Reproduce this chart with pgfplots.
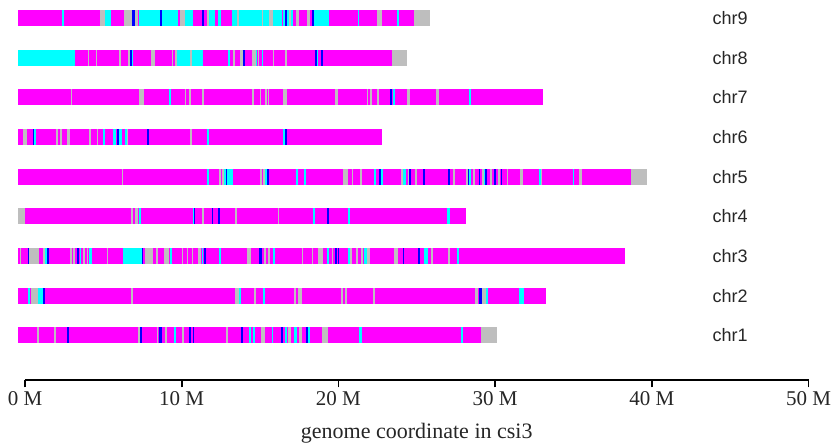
\documentclass[border=0pt]{standalone}
\usepackage{fontspec}
\setmainfont{Liberation Serif}
\newfontfamily\chrfont{Liberation Sans}
\usepackage{pgfplots}
\usepackage{pgfplotstable}
\pgfplotsset{compat=1.18}
\definecolor{segmag}{RGB}{255,0,255}
\definecolor{segcyan}{RGB}{0,255,255}
\definecolor{seggray}{RGB}{190,190,190}
\definecolor{segblue}{RGB}{0,0,255}

% chromosome body (magenta base): chr index, start (M), end (M)
\pgfplotstableread{
y s e
9 -0.43 24.83
8 -0.43 23.40
7 -0.43 33.07
6 -0.43 22.75
5 -0.43 38.68
4 0.00 28.15
3 -0.43 38.26
2 -0.43 33.26
1 -0.43 29.11
}\magtab

\pgfplotstableread{
y s e
9 4.79 5.11
9 6.32 6.85
9 7.00 7.23
9 9.89 10.21
9 11.60 11.77
9 13.51 13.68
9 15.11 15.21
9 15.60 15.85
9 16.83 16.98
9 17.28 17.49
9 18.02 18.19
9 22.45 22.81
9 24.83 25.85
8 4.00 4.11
8 4.51 4.60
8 6.00 6.11
8 6.60 6.68
8 8.02 8.30
8 9.36 9.47
8 9.57 9.68
8 10.53 10.64
8 13.30 13.40
8 13.72 13.89
8 14.51 14.74
8 14.89 14.96
8 15.81 15.89
8 16.60 16.70
8 23.40 24.40
7 2.91 3.00
7 7.28 7.60
7 10.21 10.28
7 10.47 10.57
7 11.28 11.43
7 14.51 14.62
7 15.00 15.06
7 15.32 15.43
7 15.53 15.60
7 16.45 16.70
7 19.79 20.00
7 21.81 21.91
7 22.02 22.17
7 22.49 22.60
7 24.40 24.60
7 26.23 26.43
6 -0.15 0.15
6 1.98 2.13
6 2.23 2.34
6 2.68 2.87
6 4.11 4.21
6 4.57 4.68
6 6.49 6.60
6 10.53 10.64
5 6.17 6.28
5 12.38 12.49
5 12.60 12.70
5 15.00 15.11
5 15.21 15.32
5 20.32 20.64
5 20.85 20.96
5 21.38 21.49
5 24.00 24.15
5 24.43 24.51
5 24.89 25.00
5 27.34 27.45
5 28.15 28.26
5 28.62 28.72
5 29.15 29.26
5 29.68 29.79
5 30.21 30.32
5 30.74 30.85
5 31.60 31.81
5 32.94 33.02
5 35.38 35.53
5 38.68 39.68
4 -0.43 0.00
4 6.74 6.87
4 7.02 7.23
4 11.30 11.40
4 13.43 13.53
4 16.13 16.23
3 -0.32 -0.26
3 0.28 0.91
3 1.17 1.28
3 2.87 2.98
3 3.09 3.19
3 3.72 3.83
3 3.94 4.04
3 5.21 5.30
3 7.66 8.19
3 8.36 8.47
3 8.87 9.21
3 10.00 10.11
3 10.32 10.43
3 10.64 10.74
3 11.06 11.21
3 14.15 14.40
3 15.26 15.36
3 15.53 15.64
3 17.66 17.77
3 18.30 18.40
3 18.72 19.04
3 19.57 19.68
3 20.77 20.85
3 21.11 21.28
3 21.45 21.60
3 21.81 22.02
3 23.57 23.79
3 25.89 26.06
3 27.02 27.13
2 0.36 0.85
2 6.79 6.89
2 13.40 13.68
2 14.64 14.74
2 17.19 17.32
2 17.45 17.66
2 20.19 20.30
2 20.43 20.53
2 22.23 22.34
2 28.72 28.89
2 29.15 29.40
1 0.79 0.89
1 1.87 1.98
1 7.21 7.32
1 8.40 8.51
1 8.94 9.04
1 10.04 10.15
1 12.83 12.94
1 15.04 15.32
1 16.81 16.98
1 17.49 17.66
1 18.94 19.36
1 29.11 30.15
}\graytab

\pgfplotstableread{
y s e
9 2.38 2.47
9 5.11 5.49
9 7.30 8.62
9 8.72 9.79
9 10.21 10.70
9 11.77 12.13
9 12.30 12.51
9 13.19 13.51
9 13.68 15.11
9 15.21 15.60
9 15.85 16.38
9 16.49 16.60
9 16.72 16.83
9 16.98 17.13
9 18.45 19.40
9 21.23 21.32
9 23.74 23.87
8 -0.43 3.19
8 6.81 6.89
8 9.68 10.53
8 10.64 11.38
8 12.98 13.09
8 14.74 14.83
8 15.13 15.21
8 18.62 18.72
7 9.21 9.30
7 23.51 23.62
7 28.34 28.43
6 0.57 0.68
6 5.00 5.11
6 5.64 5.81
6 6.00 6.17
6 6.38 6.49
6 11.60 11.72
6 16.49 16.60
5 11.60 11.72
5 12.70 12.83
5 12.91 13.26
5 15.32 15.43
5 17.30 17.40
5 17.81 17.94
5 22.30 22.40
5 22.72 22.83
5 24.15 24.30
5 28.34 28.47
5 29.26 29.36
5 32.81 32.94
5 34.94 35.04
4 7.30 7.40
4 10.70 10.79
4 18.36 18.51
4 20.64 20.74
4 26.94 27.09
3 1.28 1.38
3 3.51 3.60
3 4.11 4.26
3 6.28 7.45
3 9.26 9.36
3 11.28 11.38
3 12.40 12.51
3 15.85 15.96
3 19.30 19.43
3 20.64 20.77
3 21.66 21.81
3 25.49 25.70
3 27.55 27.70
2 0.21 0.32
2 0.85 1.13
2 13.68 13.79
2 15.21 15.32
2 29.40 29.53
2 31.55 31.85
1 9.53 9.64
1 14.30 14.40
1 14.57 14.68
1 15.74 15.85
1 16.60 16.74
1 17.19 17.34
1 18.04 18.19
1 21.32 21.49
1 27.83 27.98
}\cyantab

\pgfplotstableread{
y s e
9 6.85 7.00
9 8.62 8.72
9 11.28 11.43
9 16.60 16.72
9 18.34 18.45
8 6.70 6.81
8 13.89 14.02
8 18.49 18.62
8 18.87 19.00
7 23.30 23.43
6 0.49 0.57
6 5.89 6.00
6 7.77 7.89
6 16.60 16.70
5 12.83 12.91
5 15.47 15.60
5 22.61 22.72
5 24.51 24.64
5 25.43 25.53
5 27.02 27.13
5 28.26 28.34
5 28.94 29.04
5 29.36 29.47
5 29.96 30.06
5 30.36 30.47
4 10.79 10.87
4 11.91 12.02
4 12.32 12.43
4 19.30 19.43
3 0.17 0.28
3 1.43 1.55
3 3.34 3.43
3 7.45 7.55
3 11.43 11.55
3 14.96 15.11
3 19.79 19.89
3 19.96 20.04
3 24.11 24.21
3 25.11 25.23
2 1.13 1.26
2 28.98 29.15
1 2.70 2.81
1 7.36 7.49
1 8.57 8.72
1 10.49 10.60
1 10.70 10.81
1 13.79 13.89
1 16.32 16.45
1 17.91 18.04
}\bluetab

\pgfplotsset{
  segs/.style={draw=none, no markers, forget plot,
    error bars/.cd, x dir=plus, x explicit, error mark=none,
    error bar style={line width=16pt, draw=#1, solid}},
}

\begin{document}
\begin{tikzpicture}
\begin{axis}[
  scale only axis, width=783pt, height=380pt,
  xmin=0, xmax=50, ymin=-0.136, ymax=9.46,
  axis x line*=bottom, axis y line=none, ytick=\empty,
  axis line style={line width=1.6pt, -},
  xtick={0,10,20,30,40,50},
  xticklabels={0 M,10 M,20 M,30 M,40 M,50 M},
  tick align=outside, major tick length=7pt,
  every tick/.style={black, line width=1.6pt},
  xticklabel style={font=\fontsize{21}{24}\selectfont, color=black!85, yshift=-1pt},
  xlabel={genome coordinate in csi3},
  xlabel style={font=\fontsize{22}{25}\selectfont, color=black!85, yshift=-10pt},
  clip=false,
]
\addplot[segs=segmag] table[x=s, y=y, x error plus expr=\thisrow{e}-\thisrow{s}] {\magtab};
\addplot[segs=seggray] table[x=s, y=y, x error plus expr=\thisrow{e}-\thisrow{s}] {\graytab};
\addplot[segs=segcyan] table[x=s, y=y, x error plus expr=\thisrow{e}-\thisrow{s}] {\cyantab};
\addplot[segs=segblue] table[x=s, y=y, x error plus expr=\thisrow{e}-\thisrow{s}] {\bluetab};
\foreach \k in {1,...,9} {
  \edef\tmp{\noexpand\node[font=\noexpand\chrfont\noexpand\fontsize{18}{20}\noexpand\selectfont, text=black!85] at (axis cs:45,\k) {chr\k};}
  \tmp
}
\path (axis cs:-1.595,9.46) rectangle (axis cs:51.69,-1.753);
\end{axis}
\end{tikzpicture}
\end{document}
